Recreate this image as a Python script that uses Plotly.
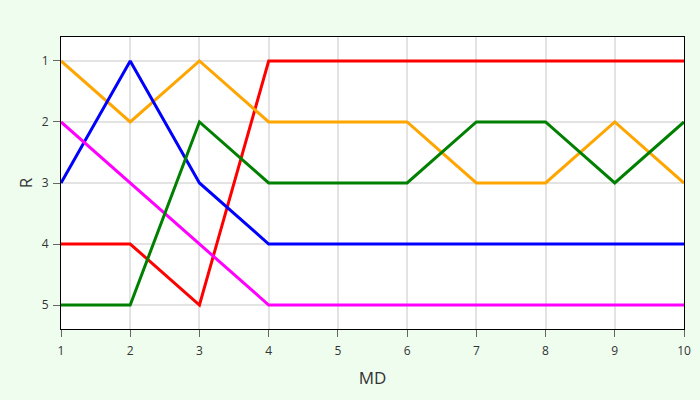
import plotly.graph_objects as go

x = [1, 2, 3, 4, 5, 6, 7, 8, 9, 10]
red = [4, 4, 5, 1, 1, 1, 1, 1, 1, 1]
orange = [1, 2, 1, 2, 2, 2, 3, 3, 2, 3]
blue = [3, 1, 3, 4, 4, 4, 4, 4, 4, 4]
magenta = [2, 3, 4, 5, 5, 5, 5, 5, 5, 5]
green = [5, 5, 2, 3, 3, 3, 2, 2, 3, 2]

series = [(red, "red"), (orange, "orange"), (blue, "blue"), (magenta, "magenta"), (green, "green")]

fig = go.Figure()
for vals, col in series:
    fig.add_trace(go.Scatter(x=x, y=vals, mode="lines", line=dict(color=col, width=3), showlegend=False))

fig.update_layout(
    width=700, height=400,
    margin=dict(l=61, r=9, t=37, b=71),
    paper_bgcolor="#effdef",
    plot_bgcolor="white",
    font=dict(family="Open Sans", color="#333"),
)
fig.update_xaxes(
    range=[1, 10], tickvals=x, title=dict(text="MD", font=dict(size=17), standoff=13),
    showgrid=True, gridcolor="#e3e3e3", gridwidth=1.5, showline=True, linecolor="black", linewidth=1, mirror=True,
    ticks="outside", tickcolor="#666", ticklen=7, tickfont=dict(size=12), ticklabelstandoff=4, zeroline=False,
)
fig.update_yaxes(
    range=[5.393, 0.607], tickvals=[1, 2, 3, 4, 5], title=dict(text="R", font=dict(size=17), standoff=4),
    showgrid=True, gridcolor="#e3e3e3", gridwidth=1.5, showline=True, linecolor="black", linewidth=1, mirror=True,
    ticks="outside", tickcolor="#666", ticklen=7, tickfont=dict(size=12), ticklabelstandoff=2, zeroline=False,
)
fig.write_html("out.html", config={"displayModeBar": False},
               post_script="document.body.style.margin='0';document.body.style.background='#effdef';")
